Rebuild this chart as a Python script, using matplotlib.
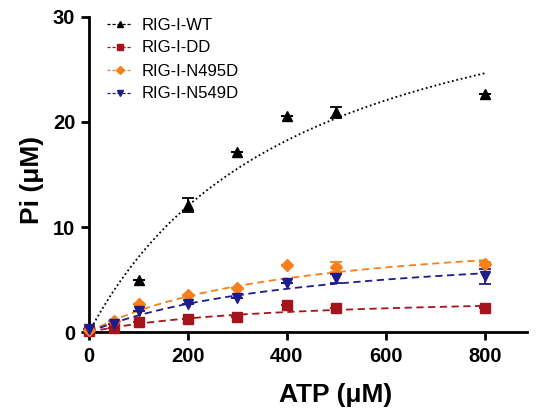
import numpy as np
import matplotlib
matplotlib.use("Agg")
import matplotlib.pyplot as plt

plt.rcParams['font.family'] = ['Liberation Sans', 'DejaVu Sans']

# ATP concentrations (uM)
atp = [0, 50, 100, 200, 300, 400, 500, 800]

# Released phosphate (uM) per construct
pi_wt = [0.2, None, 5.0, 12.1, 17.1, 20.6, 20.9, 22.7]
pi_dd = [0.1, 0.4, 1.0, 1.2, 1.4, 2.6, 2.3, 2.3]
pi_n495d = [0.2, 1.1, 2.7, 3.5, 4.2, 6.4, 6.2, 6.5]
pi_n549d = [0.3, 0.8, 2.0, 2.7, 3.2, 4.7, 5.1, 5.3]

# Error bars (SD)
err_wt = [0, 0, 0, 0.7, 0, 0, 0.5, 0]
err_dd = [0, 0, 0, 0, 0, 0, 0, 0]
err_n495d = [0, 0, 0, 0, 0, 0, 0.5, 0.2]
err_n549d = [0, 0, 0, 0, 0, 0, 0.4, 0.7]

# Michaelis-Menten fit parameters (Vmax, Km)
fit_wt = (37.9, 431)
fit_dd = (3.6, 354)
fit_n495d = (10.35, 409)
fit_n549d = (8.75, 450)

labels = ["RIG-I-WT", "RIG-I-DD", "RIG-I-N495D", "RIG-I-N549D"]
colors = ["#000000", "#A3141B", "#F7801C", "#1C1C8E"]
markers = ["^", "s", "D", "v"]
msizes = [7, 7, 6.5, 7.5]
linestyles = [(0, (1, 1.5)), (0, (4, 2.5)), (0, (4, 2.5)), (0, (4, 2.5))]

fig = plt.figure(figsize=(5.43, 4.11), dpi=100)
ax = fig.add_axes([0.164, 0.192, 0.806, 0.767])

xfit = np.linspace(0, 800, 300)
series = [(pi_wt, err_wt, fit_wt), (pi_dd, err_dd, fit_dd),
          (pi_n495d, err_n495d, fit_n495d), (pi_n549d, err_n549d, fit_n549d)]

for (vals, errs, (vmax, km)), lab, c, m, ms, ls in zip(series, labels, colors,
                                                        markers, msizes, linestyles):
    x = [a for a, v in zip(atp, vals) if v is not None]
    y = [v for v in vals if v is not None]
    e = [er for er, v in zip(errs, vals) if v is not None]
    ax.plot(xfit, vmax * xfit / (km + xfit), color=c, linestyle=ls, lw=1.3,
            clip_on=False, zorder=2)
    ax.errorbar(x, y, yerr=e, fmt=m, color=c, ms=ms, capsize=4, elinewidth=1.3,
                capthick=1.3, clip_on=False, zorder=3)
    ax.plot([], [], color=c, linestyle=(0, (2.5, 1.5)), lw=0.9, marker=m, ms=4,
            label=lab)

ax.set_xlim(0, 885)
ax.set_ylim(0, 30)
ax.set_xticks([0, 200, 400, 600, 800])
ax.set_yticks([0, 10, 20, 30])
for s in ["top", "right"]:
    ax.spines[s].set_visible(False)
for s in ["left", "bottom"]:
    ax.spines[s].set_linewidth(2)
ax.tick_params(direction="out", length=6, width=2, labelsize=14.5)
ax.tick_params(axis="x", pad=5)
ax.tick_params(axis="y", pad=4)
for t in ax.get_xticklabels() + ax.get_yticklabels():
    t.set_fontweight("bold")

ax.set_xlabel("ATP (\u03bcM)", fontsize=19, fontweight="bold")
ax.set_ylabel("Pi (\u03bcM)", fontsize=19, fontweight="bold")
ax.xaxis.set_label_coords(0.564, -0.16)
ax.yaxis.set_label_coords(-0.102, 0.483)

leg = ax.legend(loc="upper left", bbox_to_anchor=(107 / 543, 1 - 17.5 / 411),
                bbox_transform=fig.transFigure, frameon=False,
                fontsize=12, handlelength=1.5, handletextpad=0.6,
                labelspacing=0.48, borderaxespad=0, borderpad=0)

fig.savefig("out.png", dpi=100)
